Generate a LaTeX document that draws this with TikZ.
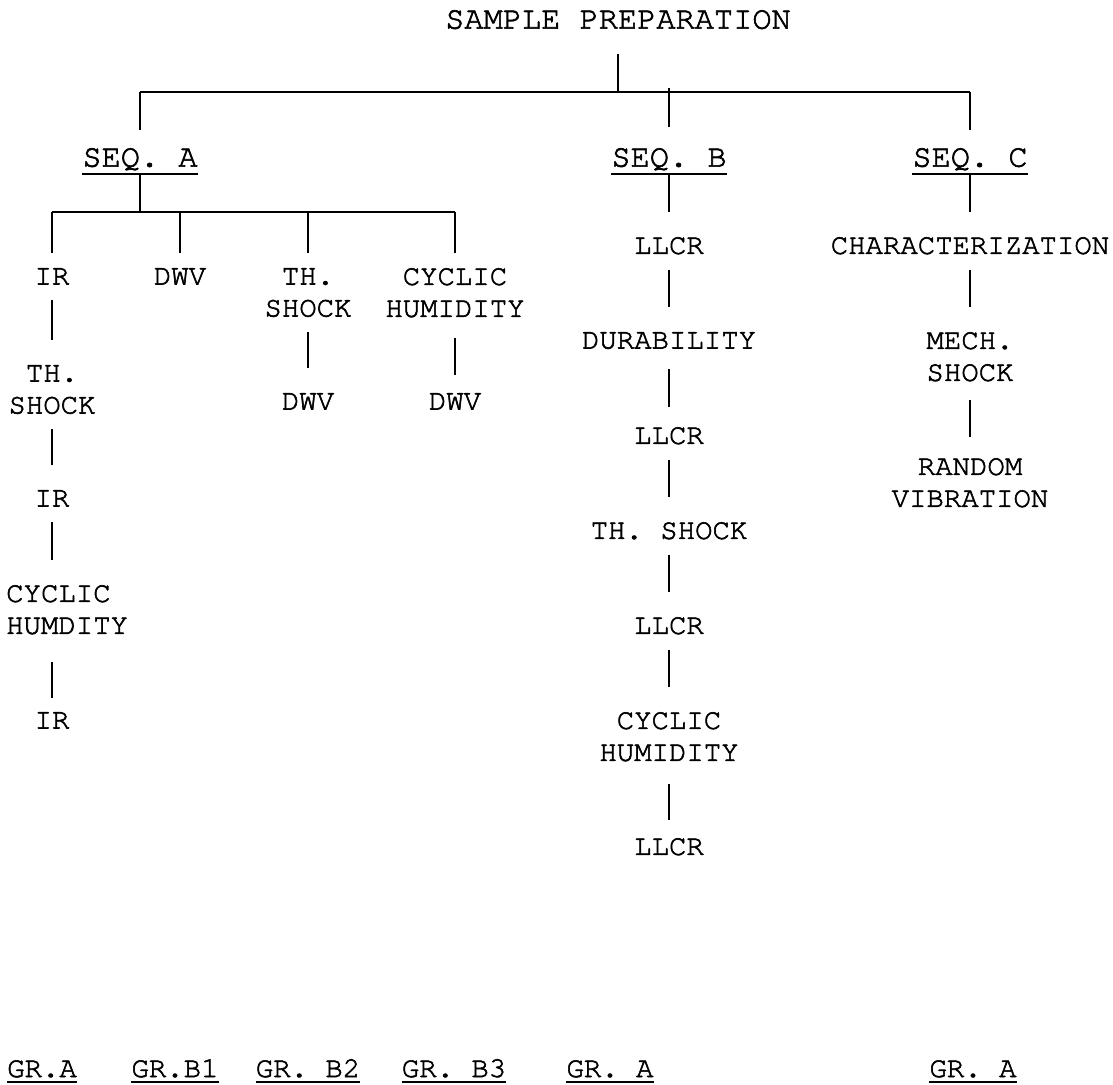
\documentclass[tikz,border=0pt]{standalone}
\usepackage{fontspec}
\newfontfamily\cour[RawFeature={embolden=2}]{TeX Gyre Cursor}
\usetikzlibrary{calc}

\tikzset{
  lbl/.style={inner sep=0pt, align=center, font=\cour\fontsize{29}{32}\selectfont},
  head/.style={inner sep=0pt, font=\cour\fontsize{32}{35}\selectfont},
  link/.style={line width=1.4pt, shorten <=15pt, shorten >=25pt},
  bar/.style={line width=2.2pt},
}

\begin{document}
\begin{tikzpicture}[x=1pt,y=-1pt]
\useasboundingbox (0,0) rectangle (1113,1084);

% title and the three sequences
\node[head,anchor=north] (prep) at (618,10) {SAMPLE PREPARATION};
\node[head,anchor=north] (seqA) at (140,148) {SEQ. A};
\node[head,anchor=north] (seqB) at (669,148) {SEQ. B};
\node[head,anchor=north] (seqC) at (970,148) {SEQ. C};
\coordinate (top) at (618,92);
\draw[link,shorten <=25pt,shorten >=0pt] (prep.south) -- (prep.south |- top);
\draw[bar] (seqA |- top) -- (seqC |- top);
\draw[link,shorten <=0pt,shorten >=18pt] (seqA |- top) -- (seqA.north);
\draw[link,shorten <=-4pt,shorten >=21pt] (seqB |- top) -- (seqB.north);
\draw[link,shorten <=0pt,shorten >=18pt] (seqC |- top) -- (seqC.north);
\foreach \n in {seqA,seqB,seqC}
  \draw[bar] ($(\n.base west)+(0,7)$) -- ($(\n.base east)+(0,7)$);

% seq. a
\coordinate (sub) at (140,212);
\draw[link,shorten <=7pt,shorten >=0pt] (seqA.base) -- (sub);
\node[lbl,anchor=north] (ir1) at (52,268) {IR};
\node[lbl,anchor=north] (dwv1) at (180,268) {DWV};
\node[lbl,anchor=north] (ths1) at (308,268) {TH.\\SHOCK};
\node[lbl,anchor=north] (cyc1) at (455,268) {CYCLIC\\HUMIDITY};
\draw[bar] (ir1 |- sub) -- (cyc1 |- sub);
\foreach \n in {ir1,dwv1,ths1,cyc1}
  \draw[link,shorten <=0pt,shorten >=15pt] (\n |- sub) -- (\n.north);

\node[lbl,anchor=north] (ths2) at (52,365) {TH.\\SHOCK};
\node[lbl,anchor=north] (ir2) at (52,490) {IR};
\node[lbl,anchor=north west,align=left] (cyc2) at (6,585) {CYCLIC\\HUMDITY};
\node[lbl,anchor=north] (ir3) at (52,712) {IR};
\draw[link] (ir1) -- (ths2);
\draw[link] (ths2) -- (ir2);
\draw[link] (ir2.south) -- (ir2.south |- cyc2.north);
\draw[link,shorten <=27pt,shorten >=14pt] (cyc2.south -| ir3) -- (ir3.north);

\node[lbl,anchor=north] (dwv2) at (308,393) {DWV};
\node[lbl,anchor=north] (dwv3) at (455,393) {DWV};
\draw[link] (ths1) -- (dwv2);
\draw[link,shorten <=20pt,shorten >=18pt] (cyc1) -- (dwv3);

% seq. b
\node[lbl,anchor=north] (llcr1) at (669,237) {LLCR};
\node[lbl,anchor=north] (dur) at (669,332) {DURABILITY};
\node[lbl,anchor=north] (llcr2) at (669,427) {LLCR};
\node[lbl,anchor=north] (ths3) at (669,522) {TH. SHOCK};
\node[lbl,anchor=north] (llcr3) at (669,617) {LLCR};
\node[lbl,anchor=north] (cyc3) at (669,712) {CYCLIC\\HUMIDITY};
\node[lbl,anchor=north] (llcr4) at (669,838) {LLCR};
\draw[link,shorten <=7pt] (seqB.base) -- (llcr1.north);
\draw[link] (llcr1) -- (dur);
\draw[link,shorten <=20pt,shorten >=20pt] (dur) -- (llcr2);
\draw[link] (llcr2) -- (ths3);
\draw[link] (ths3) -- (llcr3);
\draw[link] (llcr3) -- (cyc3);
\draw[link,shorten <=22pt,shorten >=18pt] (cyc3) -- (llcr4);

% seq. c
\node[lbl,anchor=north] (chr) at (970,237) {CHARACTERIZATION};
\node[lbl,anchor=north] (mech) at (970,332) {MECH.\\SHOCK};
\node[lbl,anchor=north] (rnd) at (970,458) {RANDOM\\VIBRATION};
\draw[link,shorten <=7pt] (seqC.base) -- (chr.north);
\draw[link] (chr) -- (mech);
\draw[link,shorten <=18pt,shorten >=21pt] (mech) -- (rnd);

% groups
\node[lbl,anchor=base] (grA1) at (42,1077) {GR.A};
\node[lbl,anchor=base] (grB1) at (175,1077) {GR.B1};
\node[lbl,anchor=base] (grB2) at (308,1077) {GR. B2};
\node[lbl,anchor=base] (grB3) at (454,1077) {GR. B3};
\node[lbl,anchor=base] (grA2) at (610,1077) {GR. A};
\node[lbl,anchor=base] (grA3) at (973,1077) {GR. A};
\foreach \n in {grA1,grB1,grB2,grB3,grA2,grA3}
  \draw[bar] ($(\n.base west)+(0,5)$) -- ($(\n.base east)+(0,5)$);
\end{tikzpicture}
\end{document}
